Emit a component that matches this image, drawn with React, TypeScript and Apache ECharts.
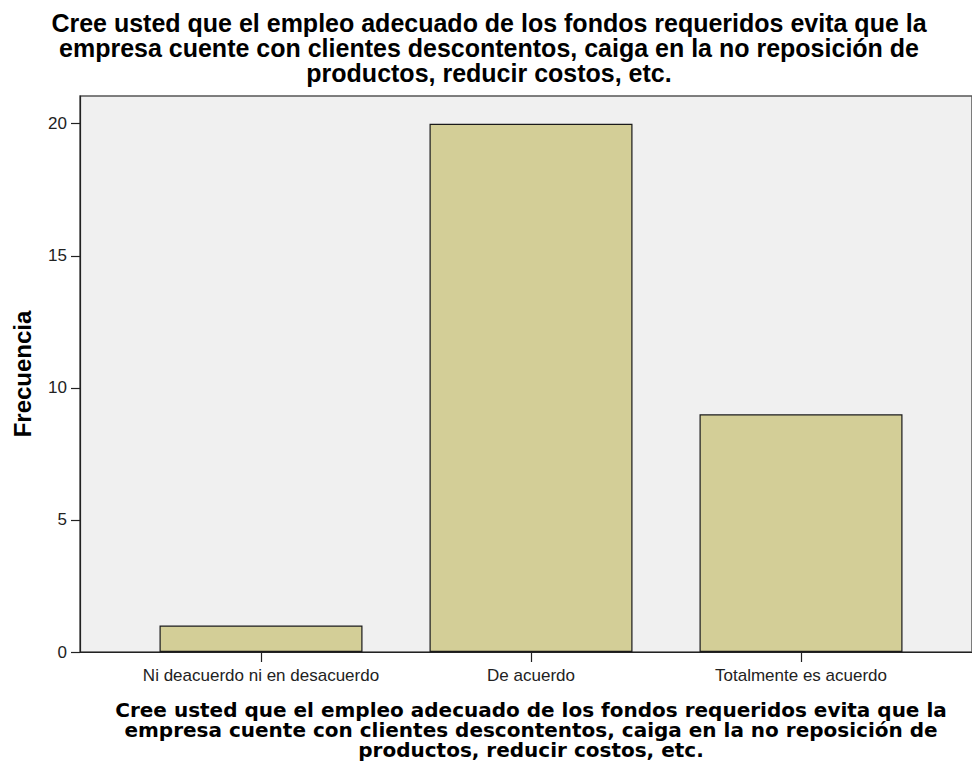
import React, { useEffect, useRef } from "react";
import * as echarts from "echarts";

const categories = ["Ni deacuerdo ni en desacuerdo", "De acuerdo", "Totalmente es acuerdo"];
const frequencies = [1, 20, 9];
const yTicks = [0, 5, 10, 15, 20];
const titleText =
  "Cree usted que el empleo adecuado de los fondos requeridos evita que la\nempresa cuente con clientes descontentos, caiga en la no reposición de\nproductos, reducir costos, etc.";

export default function App() {
  const ref = useRef<HTMLDivElement>(null);
  useEffect(() => {
    if (!ref.current) return;
    const chart = echarts.init(ref.current, null, { renderer: "svg" });
    const xMin = -0.6704;
    const xMax = xMin + 892 / 270;
    chart.setOption({
      animation: false,
      backgroundColor: "#ffffff",
      graphic: [
        {
          type: "text",
          x: 489,
          y: 10,
          style: {
            text: titleText,
            textAlign: "center",
            textVerticalAlign: "top",
            font: "bold 25px 'Liberation Sans', Arial, sans-serif",
            lineHeight: 25,
            fill: "#000",
          },
        },
      ],
      grid: {
        left: 80,
        top: 96,
        right: 0,
        bottom: 119,
        show: true,
        backgroundColor: "#f0f0f0",
        borderColor: "#555",
        borderWidth: 1.5,
        containLabel: false,
      },
      xAxis: {
        type: "value",
        min: xMin,
        max: xMax,
        splitLine: { show: false },
        axisLine: { show: true, onZero: false, lineStyle: { color: "#222", width: 1.2 } },
        axisTick: {
          show: true,
          length: 10,
          customValues: [0, 1, 2],
          lineStyle: { color: "#222", width: 1.2 },
        },
        axisLabel: {
          customValues: [0, 1, 2],
          formatter: (v: number) => categories[Math.round(v)] ?? "",
          fontFamily: "Liberation Sans",
          fontSize: 17,
          color: "#222",
          margin: 15,
        },
        name: titleText,
        nameLocation: "middle",
        nameGap: 48,
        nameTextStyle: {
          fontFamily: "DejaVu Sans",
          fontWeight: "bold",
          fontSize: 20,
          lineHeight: 20,
          color: "#000",
          align: "center",
          padding: [0, 0, 0, 10],
        },
      },
      yAxis: {
        type: "value",
        min: 0,
        max: 21.05,
        splitLine: { show: false },
        axisLine: { show: true, onZero: false, lineStyle: { color: "#222", width: 1.2 } },
        axisTick: { show: true, length: 9, customValues: yTicks, lineStyle: { color: "#222", width: 1.2 } },
        axisLabel: {
          customValues: yTicks,
          fontFamily: "Liberation Sans",
          fontSize: 17,
          color: "#222",
          margin: 13,
        },
        name: "Frecuencia",
        nameLocation: "middle",
        nameRotate: 90,
        nameGap: 46,
        nameTextStyle: {
          fontFamily: "Liberation Sans",
          fontWeight: "bold",
          fontSize: 24,
          color: "#000",
        },
      },
      series: [
        {
          type: "bar",
          data: frequencies.map((v, i) => [i, v]),
          barWidth: 203,
          itemStyle: { color: "#d3ce97", borderColor: "#1a1a1a", borderWidth: 1.2 },
        },
      ],
    });
    return () => chart.dispose();
  }, []);
  return <div ref={ref} style={{ width: 972, height: 771, position: "absolute", left: 0, top: 0 }} />;
}
